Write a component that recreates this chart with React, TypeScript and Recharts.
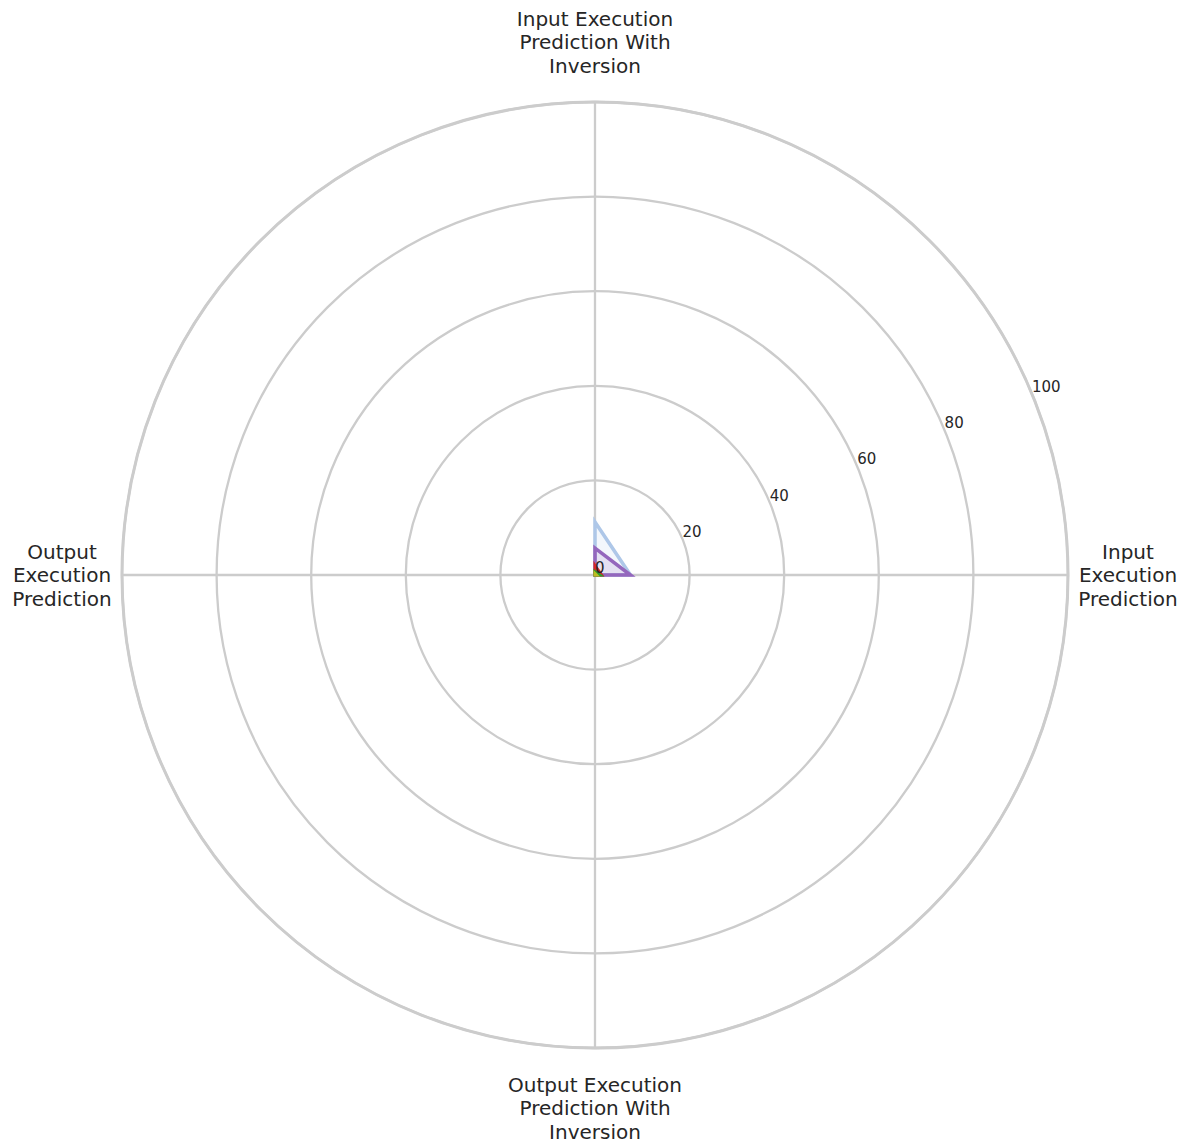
import React from "react";
import {
  RadarChart,
  Radar,
  PolarGrid,
  PolarAngleAxis,
  PolarRadiusAxis,
} from "recharts";

// clockwise from the top
const categories = [
  "Input Execution Prediction With Inversion",
  "Input Execution Prediction",
  "Output Execution Prediction With Inversion",
  "Output Execution Prediction",
];

const categoryLines = [
  ["Input Execution", "Prediction With", "Inversion"],
  ["Input", "Execution", "Prediction"],
  ["Output Execution", "Prediction With", "Inversion"],
  ["Output", "Execution", "Prediction"],
];

const radiusTicks = [0, 20, 40, 60, 80, 100];

const seriesLightBlue = [11.2, 7.5, 0, 0];
const seriesPurple = [5.7, 7.5, 0, 0];
const seriesRed = [2.0, 1.4, 0, 0];
const seriesGreen = [0.7, 1.0, 0, 0];
const seriesOlive = [0.3, 0.3, 0, 0];

const data = categories.map((name, i) => ({
  name,
  lightBlue: seriesLightBlue[i],
  purple: seriesPurple[i],
  red: seriesRed[i],
  green: seriesGreen[i],
  olive: seriesOlive[i],
}));

const W = 1191;
const H = 1144;
const CX = 595;
const CY = 575;
const R = 473;
const LABEL_R = 533;
const textColor = "#262626";
const gridColor = "#cccccc";

function AngleTick(props: any) {
  const { payload, x: tx, y: ty } = props;
  const idx = categories.indexOf(payload.value);
  const lines = categoryLines[idx] || [payload.value];
  const dx = tx - CX;
  const dy = ty - CY;
  const len = Math.sqrt(dx * dx + dy * dy) || 1;
  const x = CX + (LABEL_R * dx) / len;
  const y = CY + (LABEL_R * dy) / len;
  const lh = 23.5;
  const y0 = y - ((lines.length - 1) * lh) / 2;
  return (
    <text
      x={x}
      y={y0}
      textAnchor="middle"
      dominantBaseline="central"
      fill={textColor}
      fontSize={20}
    >
      {lines.map((l, i) => (
        <tspan key={i} x={x} y={y0 + i * lh}>
          {l}
        </tspan>
      ))}
    </text>
  );
}

function RadiusTick(props: any) {
  const { x, y, payload } = props;
  return (
    <text x={x} y={y - 2} textAnchor="start" fill={textColor} fontSize={15}>
      {payload.value}
    </text>
  );
}

export default function App() {
  return (
    <div style={{ position: "absolute", left: 0, top: 0, fontFamily: "DejaVu Sans" }}>
      <RadarChart
        width={W}
        height={H}
        data={data}
        cx={CX}
        cy={CY}
        outerRadius={R}
        startAngle={90}
        endAngle={-270}
        margin={{ top: 0, right: 0, bottom: 0, left: 0 }}
      >
        <PolarGrid gridType="circle" stroke={gridColor} strokeWidth={2.3} />
        <PolarGrid gridType="circle" radialLines={false} polarRadius={[R]} stroke={gridColor} strokeWidth={3} />
        <PolarAngleAxis dataKey="name" tick={<AngleTick />} tickLine={false} axisLine={false} />
        <PolarRadiusAxis
          angle={22.5}
          domain={[0, 100]}
          ticks={radiusTicks as any}
          tickCount={6}
          tick={<RadiusTick />}
          axisLine={false}
          tickLine={false}
        />
        <Radar dataKey="lightBlue" stroke="#aec7e8" fill="#aec7e8" fillOpacity={0.15} strokeWidth={3.5} isAnimationActive={false} />
        <Radar dataKey="purple" stroke="#9467bd" fill="#9467bd" fillOpacity={0.15} strokeWidth={3.5} isAnimationActive={false} />
        <Radar dataKey="red" stroke="#d62728" fill="#d62728" fillOpacity={0.3} strokeWidth={3} isAnimationActive={false} />
        <Radar dataKey="green" stroke="#2ca02c" fill="#2ca02c" fillOpacity={0.3} strokeWidth={3} isAnimationActive={false} />
        <Radar dataKey="olive" stroke="#bcbd22" fill="#bcbd22" fillOpacity={0.3} strokeWidth={3} isAnimationActive={false} />
      </RadarChart>
    </div>
  );
}
